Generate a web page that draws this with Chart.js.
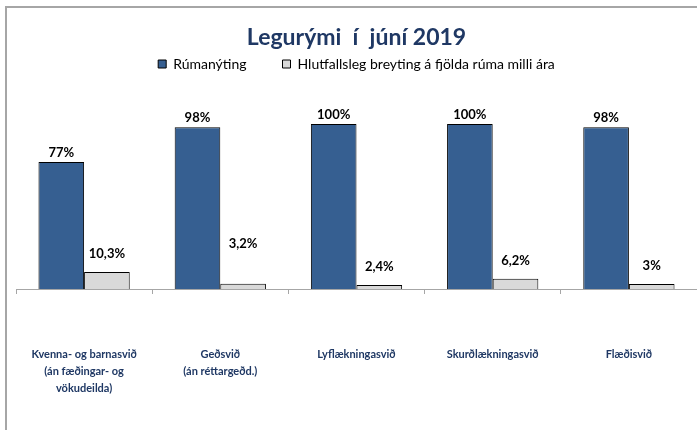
<!DOCTYPE html>
<html>
<head>
<meta charset="utf-8">
<script src="https://cdn.jsdelivr.net/npm/chart.js@4"></script>
<style>
  html, body { margin: 0; padding: 0; background: #fff; overflow: hidden; }
  #wrap { position: relative; width: 697px; height: 430px; }
  #frame { position: absolute; left: 5px; top: 6px; width: 800px; height: 500px;
           border-top: 2px solid #a6a6a6; border-left: 2px solid #a6a6a6; pointer-events: none; }
</style>
</head>
<body>
<div id="wrap">
  <canvas id="legurymi" width="697" height="430"></canvas>
  <div id="frame"></div>
</div>
<script>
const categories = [
  ["Kvenna- og barnasvið", "(án fæðingar- og", "vökudeilda)"],
  ["Geðsvið", "(án réttargeðd.)"],
  "Lyflækningasvið",
  "Skurðlækningasvið",
  "Flæðisvið"
];
const rumanyting = [77, 98, 100, 100, 98];
const breyting = [10.3, 3.2, 2.4, 6.2, 3];
const rumanytingLabels = ["77%", "98%", "100%", "100%", "98%"];
const breytingLabels = ["10,3%", "3,2%", "2,4%", "6,2%", "3%"];

// extra lift of the grey labels (they were nudged by hand in the original)
const greyLift = [9, 30, 9, 8, 9];

const navy = '#1F3864';

// push the plot down below the legend
const legendSpace = {
  id: 'legendSpace',
  beforeInit(chart) {
    const fit = chart.legend.fit;
    chart.legend.fit = function () {
      fit.bind(this)();
      this.height += 43;
    };
  }
};

const valueLabels = {
  id: 'valueLabels',
  afterDatasetsDraw(chart) {
    const ctx = chart.ctx;
    ctx.save();
    ctx.font = 'bold 13px Lato';
    ctx.fillStyle = '#000';
    ctx.textAlign = 'center';
    ctx.textBaseline = 'bottom';
    chart.getDatasetMeta(0).data.forEach((bar, i) => {
      ctx.fillText(rumanytingLabels[i], bar.x, bar.y - 3);
    });
    chart.getDatasetMeta(1).data.forEach((bar, i) => {
      ctx.fillText(breytingLabels[i], bar.x, bar.y - 3 - greyLift[i]);
    });
    ctx.restore();
  }
};

const ctx = document.getElementById('legurymi').getContext('2d');

const chart = new Chart(ctx, {
  type: 'bar',
  data: {
    labels: categories,
    datasets: [{
      label: "Rúmanýting\u2003\u2003\u2002",
      data: rumanyting,
      backgroundColor: '#365F91',
      borderColor: '#000',
      borderWidth: 1
    },
    {
      label: "Hlutfallsleg breyting á fjölda rúma milli ára",
      data: breyting,
      backgroundColor: '#D9D9D9',
      borderColor: '#000',
      borderWidth: 1
    }]
  },
  options: {
    responsive: false,
    animation: false,
    layout: {
      padding: { left: 16, right: 0, top: 0, bottom: 0 }
    },
    datasets: {
      bar: { categoryPercentage: 0.67, barPercentage: 1 }
    },
    scales: {
      x: {
        afterFit(scale) {
          scale.height = 141;
          scale.paddingLeft = 0;
          scale.paddingRight = 0;
        },
        grid: {
          offset: true,
          drawOnChartArea: false,
          color: '#a6a6a6',
          tickLength: 5
        },
        border: { display: true, color: '#a6a6a6' },
        ticks: {
          padding: 52,
          maxRotation: 0,
          autoSkip: false,
          color: navy,
          font: { family: 'Lato', size: 11, weight: 'bold', lineHeight: 1.55 }
        }
      },
      y: {
        display: false,
        min: 0,
        max: 100
      }
    },
    plugins: {
      title: {
        display: true,
        text: 'Legurými  í  júní 2019',
        color: navy,
        font: { family: 'Lato', size: 23, weight: 'bold', lineHeight: 1 },
        padding: { top: 26, bottom: 0 }
      },
      legend: {
        display: true,
        labels: {
          boxWidth: 8,
          boxHeight: 8,
          padding: 8,
          color: '#000',
          font: { family: 'Lato', size: 14 }
        }
      },
      tooltip: { enabled: false }
    }
  },
  plugins: [legendSpace, valueLabels]
});
</script>
</body>
</html>
